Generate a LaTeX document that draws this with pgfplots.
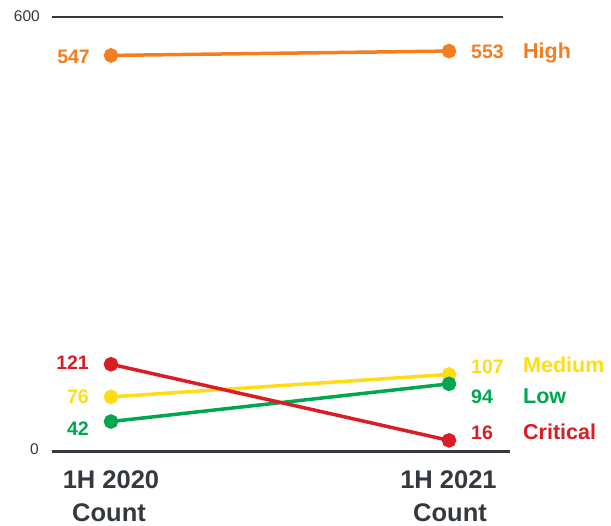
\documentclass[border=0pt]{standalone}
\usepackage{pgfplots}
\pgfplotsset{compat=1.18}
\usepackage{fontspec}
\setmainfont{Liberation Sans}
\definecolor{cHigh}{HTML}{F47D20}
\definecolor{cMed}{HTML}{FFDC14}
\definecolor{cLow}{HTML}{00A650}
\definecolor{cCrit}{HTML}{D91C26}
\definecolor{cAxis}{HTML}{33393E}
\begin{document}
\begin{tikzpicture}[x=1pt,y=1pt]
\useasboundingbox (0,0) rectangle (611,526);
\begin{axis}[
  at={(52pt,74pt)}, anchor=south west,
  scale only axis, width=458pt, height=435pt,
  xmin=-0.17456, xmax=1.18047, ymin=0, ymax=600,
  clip=false, hide axis,
  every axis plot/.append style={line width=3.5pt, mark=*, mark size=5.5pt},
]
\draw[cAxis, line width=2.5pt] (axis cs:-0.17456,600) -- (axis cs:1.1598,600);
\draw[cAxis, line width=3pt] (axis cs:-0.17456,0) -- (axis cs:1.18047,0);
\addplot[cHigh, mark options={fill=cHigh}] coordinates {(0,547) (1,553)};
\addplot[cMed, mark options={fill=cMed}] coordinates {(0,76) (1,107)};
\addplot[cLow, mark options={fill=cLow}] coordinates {(0,42) (1,94)};
\addplot[cCrit, mark options={fill=cCrit}] coordinates {(0,121) (1,16)};
\end{axis}
% tick labels
\node[anchor=base east, inner sep=0, text=cAxis, font=\fontsize{15.5}{15.5}\selectfont] at (40,504.3) {600};
\node[anchor=base east, inner sep=0, text=cAxis, font=\fontsize{15.5}{15.5}\selectfont] at (39,71) {0};
% category labels
\begin{scope}[every node/.style={anchor=base, inner sep=0, text=cAxis, font=\fontsize{25.5}{25.5}\selectfont\bfseries}]
\node at (111,37.7) {1H 2020};
\node at (109,4.5) {Count};
\node at (448.5,37.7) {1H 2021};
\node at (450,4.5) {Count};
\end{scope}
% value labels left
\begin{scope}[every node/.style={anchor=base east, inner sep=0, font=\fontsize{19.5}{19.5}\selectfont\bfseries}]
\node[text=cHigh] at (90,462.7) {547};
\node[text=cCrit] at (89,156.7) {121};
\node[text=cMed] at (89,122) {76};
\node[text=cLow] at (89,90) {42};
\end{scope}
% value labels right
\begin{scope}[every node/.style={anchor=base west, inner sep=0, font=\fontsize{19.5}{19.5}\selectfont\bfseries}]
\node[text=cHigh] at (471,467.7) {553};
\node[text=cMed] at (471,152.7) {107};
\node[text=cLow] at (471,122) {94};
\node[text=cCrit] at (471,86.7) {16};
\end{scope}
% series names
\begin{scope}[every node/.style={anchor=base west, inner sep=0, font=\fontsize{21.5}{21.5}\selectfont\bfseries}]
\node[text=cHigh] at (523,467.7) {High};
\node[text=cMed] at (523,153.3) {Medium};
\node[text=cLow] at (523,122) {Low};
\node[text=cCrit] at (523,86.7) {Critical};
\end{scope}
\end{tikzpicture}
\end{document}
